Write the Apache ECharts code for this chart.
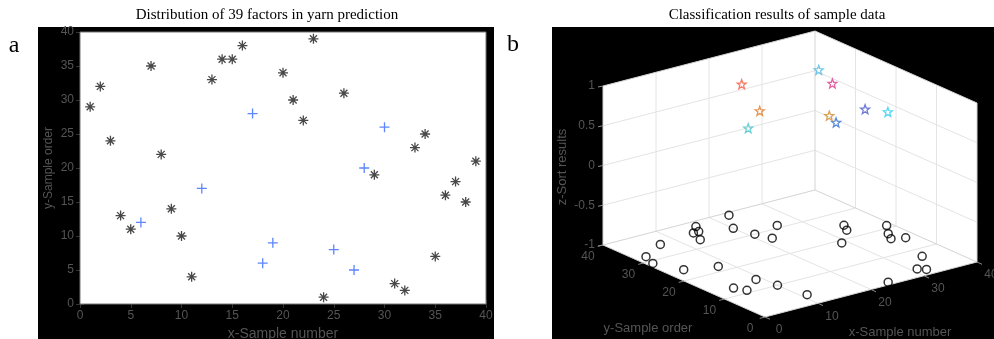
<!DOCTYPE html>
<html lang="en">
<head>
<meta charset="UTF-8">
<title>Yarn prediction factors</title>
<script src="https://cdn.jsdelivr.net/npm/echarts@6.0.0/dist/echarts.min.js"></script>
<style>
  html, body { margin: 0; padding: 0; background: #fff; }
  #chart { width: 994px; height: 339px; }
</style>
</head>
<body>
<div id="chart"></div>
<script>
// x: sample number, y: sample order, z: sort result (1 = blue / star class, -1 = black)
var sampleNo = [1, 2, 3, 4, 5, 6, 7, 8, 9, 10, 11, 12, 13, 14, 15, 16, 17, 18, 19, 20,
                21, 22, 23, 24, 25, 26, 27, 28, 29, 30, 31, 32, 33, 34, 35, 36, 37, 38, 39];
var sampleOrder = [29, 32, 24, 13, 11, 12, 35, 22, 14, 10, 4, 17, 33, 36, 36, 38, 28, 6, 9, 34,
                   30, 27, 39, 1, 8, 31, 5, 20, 19, 26, 3, 2, 23, 25, 7, 16, 18, 15, 21];
var sortResult = [-1, -1, -1, -1, -1, 1, -1, -1, -1, -1, -1, 1, -1, -1, -1, -1, 1, 1, 1, -1,
                  -1, -1, -1, -1, 1, -1, 1, 1, -1, 1, -1, -1, -1, -1, -1, -1, -1, -1, -1];
// colours of the stars, in order of sample number
var starColors = ['#40c4cc', '#e07a28', '#f05a40', '#2a6ad0', '#d08a28', '#4a5ac8', '#30ccf0', '#e03a8a', '#50b8e0'];
var xyTicks3d = [0, 10, 20, 30, 40];
var zTicks3d = [-1, -0.5, 0, 0.5, 1];

// simple oblique projection of the 3-D axes onto the page (pixel units of a hidden grid)
var O = [765, 317], EX = [5.3, -1.375], EY = [-4.05, -1.8], EZ = 79.5;
function proj(x, y, z) {
  return [O[0] + x * EX[0] + y * EY[0], O[1] + x * EX[1] + y * EY[1] - (z + 1) * EZ];
}

var ASTERISK = 'path://M0,5H10M5,0V10M1.5,1.5L8.5,8.5M8.5,1.5L1.5,8.5';
var PLUS = 'path://M0,5H10M5,0V10';
function starPath() {
  var pts = [];
  for (var k = 0; k < 10; k++) {
    var r = k % 2 ? 2.1 : 5, a = -Math.PI / 2 + k * Math.PI / 5;
    pts.push((5 + r * Math.cos(a)).toFixed(2) + ',' + (5 + r * Math.sin(a)).toFixed(2));
  }
  return 'path://M' + pts.join('L') + 'Z';
}

var black2d = [], blue2d = [], circles3d = [], stars3d = [];
var s = 0;
for (var i = 0; i < sampleNo.length; i++) {
  if (sortResult[i] > 0) {
    blue2d.push([sampleNo[i], sampleOrder[i]]);
    stars3d.push({ value: proj(sampleNo[i], sampleOrder[i], sortResult[i]),
                   itemStyle: { borderColor: starColors[s++] } });
  } else {
    black2d.push([sampleNo[i], sampleOrder[i]]);
    circles3d.push(proj(sampleNo[i], sampleOrder[i], sortResult[i]));
  }
}

var TXT = '#555';
var SANS = 'Liberation Sans, Arial, sans-serif';

function renderBox(params, api) {
  function P(x, y, z) { return api.coord(proj(x, y, z)); }
  function seg(a, b, color) {
    return { type: 'line', shape: { x1: a[0], y1: a[1], x2: b[0], y2: b[1] },
             style: { stroke: color || '#e4e4e4', lineWidth: 1 } };
  }
  function txt(p, text, align, vAlign) {
    return { type: 'text', x: p[0], y: p[1],
             style: { text: text, fill: TXT, font: '12px ' + SANS, align: align, verticalAlign: vAlign } };
  }
  var kids = [];
  kids.push({ type: 'polygon', shape: { points: [P(0, 40, 1), P(40, 40, 1), P(40, 0, 1), P(40, 0, -1), P(0, 0, -1), P(0, 40, -1)] },
              style: { fill: '#fff' } });
  [10, 20, 30].forEach(function (t) {
    kids.push(seg(P(t, 0, -1), P(t, 40, -1)));
    kids.push(seg(P(0, t, -1), P(40, t, -1)));
    kids.push(seg(P(t, 40, -1), P(t, 40, 1)));
    kids.push(seg(P(40, t, -1), P(40, t, 1)));
  });
  [-0.5, 0, 0.5].forEach(function (z) {
    kids.push(seg(P(0, 40, z), P(40, 40, z)));
    kids.push(seg(P(40, 40, z), P(40, 0, z)));
  });
  var edge = '#d4d4d4';
  kids.push(seg(P(40, 40, -1), P(40, 40, 1), edge));
  kids.push(seg(P(0, 40, -1), P(40, 40, -1), edge));
  kids.push(seg(P(40, 40, -1), P(40, 0, -1), edge));
  kids.push(seg(P(0, 40, 1), P(40, 40, 1), edge));
  kids.push(seg(P(40, 40, 1), P(40, 0, 1), edge));
  kids.push(seg(P(0, 40, -1), P(0, 40, 1), edge));
  kids.push(seg(P(40, 0, -1), P(40, 0, 1), edge));
  kids.push(seg(P(0, 0, -1), P(40, 0, -1), edge));
  kids.push(seg(P(0, 0, -1), P(0, 40, -1), edge));

  var tick = '#8a8a8a';
  xyTicks3d.forEach(function (t) {
    var a = P(t, 0, -1);
    kids.push(seg(a, [a[0] + 5, a[1] + 2.3], tick));
    kids.push(txt([a[0] + 14, a[1] + 13], String(t), 'center', 'middle'));
    var b = P(0, t, -1);
    kids.push(seg(b, [b[0] - 5.3, b[1] + 1.4], tick));
    kids.push(txt([b[0] - 15, b[1] + 12], String(t), 'center', 'middle'));
  });
  zTicks3d.forEach(function (z) {
    var c = P(0, 40, z);
    kids.push(seg(c, [c[0] - 5, c[1] + 1], tick));
    kids.push(txt([c[0] - 8, c[1]], String(z), 'right', 'middle'));
  });
  kids.push({ type: 'text', x: 562, y: 167, rotation: Math.PI / 2,
              style: { text: 'z-Sort results', fill: TXT, font: '13px ' + SANS, align: 'center', verticalAlign: 'middle' } });
  kids.push({ type: 'text', x: 648, y: 328,
              style: { text: 'y-Sample order', fill: TXT, font: '13px ' + SANS, align: 'center', verticalAlign: 'middle' } });
  kids.push({ type: 'text', x: 900, y: 332,
              style: { text: 'x-Sample number', fill: TXT, font: '13px ' + SANS, align: 'center', verticalAlign: 'middle' } });
  return { type: 'group', children: kids };
}

var chart = echarts.init(document.getElementById('chart'));

var axis2d = {
  type: 'value', gridIndex: 0, min: 0, max: 40, interval: 5,
  axisLine: { show: false },
  axisTick: { inside: true, length: 4, lineStyle: { color: '#333' } },
  splitLine: { show: false }
};

chart.setOption({
  animation: false,
  backgroundColor: '#fff',
  graphic: [
    { type: 'rect', z: -1, shape: { x: 38, y: 27, width: 456, height: 312 }, style: { fill: '#000' } },
    { type: 'rect', z: -1, shape: { x: 552, y: 27, width: 442, height: 312 }, style: { fill: '#000' } },
    { type: 'text', x: 267, y: 15, style: { text: 'Distribution of 39 factors in yarn prediction', fill: '#000',
      font: '15px Liberation Serif, Times New Roman, serif', align: 'center', verticalAlign: 'middle' } },
    { type: 'text', x: 777, y: 15, style: { text: 'Classification results of sample data', fill: '#000',
      font: '15px Liberation Serif, Times New Roman, serif', align: 'center', verticalAlign: 'middle' } },
    { type: 'text', x: 14, y: 46, style: { text: 'a', fill: '#000',
      font: '24px Liberation Serif, Times New Roman, serif', align: 'center', verticalAlign: 'middle' } },
    { type: 'text', x: 513, y: 45, style: { text: 'b', fill: '#000',
      font: '24px Liberation Serif, Times New Roman, serif', align: 'center', verticalAlign: 'middle' } }
  ],
  grid: [
    { left: 80, top: 32, width: 406, height: 272, show: true, backgroundColor: '#fff', borderColor: '#777', borderWidth: 1, z: 1,
      outerBoundsMode: 'none', containLabel: false },
    { left: 0, top: 0, width: 994, height: 339, show: false, outerBoundsMode: 'none' }
  ],
  xAxis: [
    Object.assign({}, axis2d, {
      position: 'bottom',
      axisLabel: { color: TXT, fontSize: 12, fontFamily: SANS, margin: 6 },
      name: 'x-Sample number', nameLocation: 'middle', nameGap: 21,
      nameTextStyle: { color: TXT, fontSize: 14, fontFamily: SANS }
    }),
    Object.assign({}, axis2d, { position: 'top', axisLabel: { show: false } }),
    { type: 'value', gridIndex: 1, min: 0, max: 994, show: false }
  ],
  yAxis: [
    Object.assign({}, axis2d, {
      position: 'left',
      axisLabel: { color: TXT, fontSize: 12, fontFamily: SANS, margin: 6 },
      name: 'y-Sample order', nameLocation: 'middle', nameGap: 25,
      nameTextStyle: { color: TXT, fontSize: 12, fontFamily: SANS }
    }),
    Object.assign({}, axis2d, { position: 'right', axisLabel: { show: false } }),
    { type: 'value', gridIndex: 1, min: 0, max: 339, inverse: true, show: false }
  ],
  series: [
    { type: 'scatter', xAxisIndex: 0, yAxisIndex: 0, data: black2d, symbol: ASTERISK, symbolSize: 10,
      itemStyle: { color: 'rgba(0,0,0,0)', borderColor: '#1a1a1a', borderWidth: 1.3 }, z: 3 },
    { type: 'scatter', xAxisIndex: 0, yAxisIndex: 0, data: blue2d, symbol: PLUS, symbolSize: 10,
      itemStyle: { color: 'rgba(0,0,0,0)', borderColor: '#3366ff', borderWidth: 1.3 }, z: 3 },
    { type: 'custom', xAxisIndex: 2, yAxisIndex: 2, data: [[0, 0]], renderItem: renderBox, silent: true, z: 1, clip: false },
    { type: 'scatter', xAxisIndex: 2, yAxisIndex: 2, data: circles3d, symbol: 'circle', symbolSize: 8,
      itemStyle: { color: 'rgba(0,0,0,0)', borderColor: '#000', borderWidth: 1.5 }, z: 3, clip: false },
    { type: 'scatter', xAxisIndex: 2, yAxisIndex: 2, data: stars3d, symbol: starPath(), symbolSize: 9,
      itemStyle: { color: 'rgba(0,0,0,0)', borderWidth: 1.3 }, z: 3, clip: false }
  ]
});
</script>
</body>
</html>
